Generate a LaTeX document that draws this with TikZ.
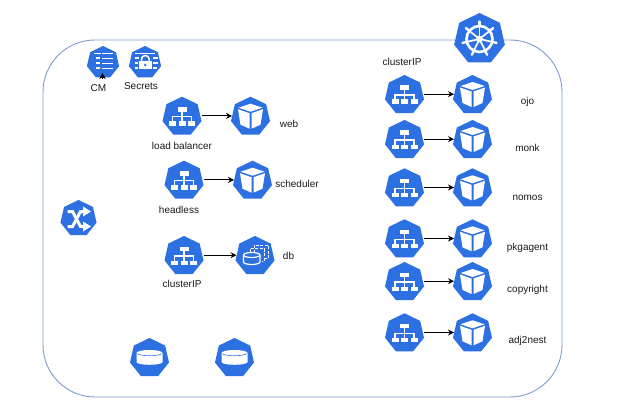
\documentclass[tikz,border=0pt]{standalone}
\usepackage{fontspec}
\setmainfont{Liberation Sans}
\usetikzlibrary{shapes.geometric,arrows.meta}
\definecolor{kblue}{HTML}{2D70E2}
\definecolor{frameblue}{HTML}{7F9CCB}
\definecolor{txt}{HTML}{1A1A1A}
\tikzset{
  hept/.style={regular polygon,regular polygon sides=7,fill=kblue,draw=none,inner sep=0pt,outer sep=0pt},
  lbl/.style={font=\fontsize{10}{12}\selectfont,text=txt,inner sep=0pt,anchor=base},
  conn/.style={draw=black,line width=1pt,shorten <=1.5pt,transform canvas={yshift=0.8pt},-{Stealth[length=6pt,width=6pt]}},
  svc/.pic={
    \node[hept,minimum size=40pt] (-n) at (0,0) {};
    \fill[white] (-4.5,-9.5) rectangle (4.5,-5);
    \fill[white] (-13,4.5) rectangle (-6,9);
    \fill[white] (-3.5,4.5) rectangle (3.5,9);
    \fill[white] (6,4.5) rectangle (13,9);
    \draw[white,line width=1.1pt] (0,-5) -- (0,4.5) (-9.5,4.5) -- (-9.5,0) -- (9.5,0) -- (9.5,4.5);
  },
  pod/.pic={
    \node[hept,minimum size=40pt] (-n) at (0,0) {};
    \fill[white] (0,-13) -- (12,-9) -- (0,-5) -- (-12,-9) -- cycle;
    \fill[white] (-12.5,-7.5) -- (-1,-3.5) -- (-1,12) -- (-10,8) -- cycle;
    \fill[white] (12.5,-7.5) -- (1,-3.5) -- (1,12) -- (10,8) -- cycle;
  },
  sts/.pic={
    \node[hept,minimum size=40pt] (-n) at (0,0) {};
    \draw[white,line width=1pt,dash pattern=on 3pt off 1.5pt] (-1,-11) rectangle (13,2);
    \draw[white,line width=1pt,dash pattern=on 3pt off 1.5pt] (-5,-7.5) rectangle (9,5);
    \fill[kblue] (-13,-4.5) rectangle (6.5,10);
    \draw[white,line width=1.2pt,fill=kblue] (-11.5,-1) -- (-11.5,6) arc[start angle=180,end angle=0,x radius=8.2,y radius=2.5] -- (4.9,-1);
    \draw[white,line width=1.2pt,fill=kblue] (-3.3,-1) ellipse[x radius=8.2,y radius=2.5];
  },
  pv/.pic={
    \node[hept,minimum size=40pt] (-n) at (0,0) {};
    \fill[white] (-13,-5) -- (-13,4) arc[start angle=180,end angle=0,x radius=13,y radius=2.8] -- (13,-5) arc[start angle=0,end angle=-180,x radius=13,y radius=3] -- cycle;
    \draw[kblue,line width=0.6pt] (-12,-4.5) arc[start angle=180,end angle=0,x radius=12,y radius=2.2];
  },
  cmap/.pic={
    \node[hept,minimum size=33pt] (-n) at (0,0) {};
    \foreach \yy in {-9,-4,1,6}{\fill[white] (-1,\yy-0.8) rectangle (10,\yy+0.8);}
    \fill[white] (-9,-9.8) rectangle (-2.5,-8.2);
    \fill[white] (-7.5,-5) rectangle (-3.5,-3);
    \fill[white] (-7.5,0) rectangle (-3.5,2);
    \fill[white] (-7.5,5) rectangle (-3.5,7);
  },
  secr/.pic={
    \node[hept,minimum size=33pt] (-n) at (0,0) {};
    \fill[white] (-10,-9.5) rectangle (10,-8.3);
    \fill[white] (-10,-5) rectangle (-6,-3.8);
    \fill[white] (8,-5) rectangle (13,-3.8);
    \fill[white] (-10,0) rectangle (-7,1.2);
    \fill[white] (8,0) rectangle (13,1.2);
    \fill[white] (-10,5) rectangle (-7,6.2);
    \fill[white] (8,5) rectangle (12,6.2);
    \fill[white] (-6,-1.5) rectangle (6.5,7);
    \draw[white,line width=1.5pt] (-3.5,-1.5) -- (-3.5,-3.5) arc[start angle=180,end angle=360,x radius=3.8,y radius=3.5] -- (4.1,-1.5);
    \fill[kblue] (0.2,2.5) circle[radius=1.4];
  },
  wheel/.pic={
    \node[hept,minimum size=52pt] (-n) at (0,0) {};
    \draw[white,line width=2.6pt] (0,0) circle[radius=13];
    \fill[white] (0,0) circle[radius=3.4];
    \foreach \aa in {-90,-38.57,12.86,64.29,115.71,167.14,-141.43}{
      \draw[white,line width=1.7pt] (0,0) -- (\aa:13);
      \draw[white,line width=2.4pt,line cap=round] (\aa:13) -- (\aa:17.5);
    }
  },
  shuf/.pic={
    \node[hept,minimum size=37pt] (-n) at (0,0) {};
    \draw[white,line width=3pt] (-11,8) -- (-6,8) -- (2,-7) -- (6,-7);
    \draw[white,line width=3pt] (-11,-7) -- (-6,-7) -- (2,8) -- (6,8);
    \fill[white] (4.5,-12) -- (12.5,-7) -- (4.5,-2) -- cycle;
    \fill[white] (4.5,3) -- (12.5,8) -- (4.5,13) -- cycle;
  },
}
\begin{document}
\begin{tikzpicture}[x=1pt,y=-1pt]
\useasboundingbox (0,0) rectangle (618,409);
\fill[white] (0,0) rectangle (618,409);
\draw[frameblue,line width=0.9pt,rounded corners=52pt] (43,40) rectangle (562,397);
\pic (k) at (479.5,39) {wheel};
\pic (cm) at (103,62.5) {cmap};
\pic (sec) at (145,62.5) {secr};
\pic (net) at (78.5,218.5) {shuf};
\pic (v1) at (149.5,358) {pv};
\pic (v2) at (234.5,358) {pv};
\node[lbl] (cml) at (98.5,91.5) {CM};
\node[lbl] (secl) at (141,90) {Secrets};
\coordinate (cmtip) at (102.5,73);
\coordinate (cmend) at (102.5,79);
\draw[black,line width=0.8pt,-{Stealth[length=6pt,width=6.5pt]}] (cmend) -- (cmtip);
%
\pic (s1) at (182,116.7) {svc};
\pic (p1) at (250.5,116.7) {pod};
\pic (s2) at (184,180.7) {svc};
\pic (p2) at (252.5,180.7) {pod};
\pic (s3) at (184,256) {svc};
\pic (p3) at (255,256) {sts};
\draw[conn] (s1-n) -- (p1-n);
\draw[conn] (s2-n) -- (p2-n);
\draw[conn] (s3-n) -- (p3-n);
\node[lbl] (l1) at (182,149.3) {load balancer};
\node[lbl] (l2) at (179,213) {headless};
\node[lbl] (l3) at (182,287.3) {clusterIP};
\node[lbl] (l4) at (289,127.3) {web};
\node[lbl] (l5) at (297,187.3) {scheduler};
\node[lbl] (l6) at (288.5,259.3) {db};
%
\node[lbl] (l7) at (402,65.5) {clusterIP};
\foreach \nn/\ys/\yl/\tx in {a/95/104.7/ojo,b/140/151.5/monk,c/188.3/200.7/nomos,d/239.3/250.5/pkgagent,e/282/292.7/copyright,f/333.3/343.7/adj2nest}{
  \pic (s\nn) at (404.5,\ys) {svc};
  \pic (p\nn) at (472.5,\ys) {pod};
  \draw[conn] (s\nn-n) -- (p\nn-n);
  \node[lbl] (t\nn) at (527.5,\yl) {\tx};
}
\end{tikzpicture}
\end{document}
